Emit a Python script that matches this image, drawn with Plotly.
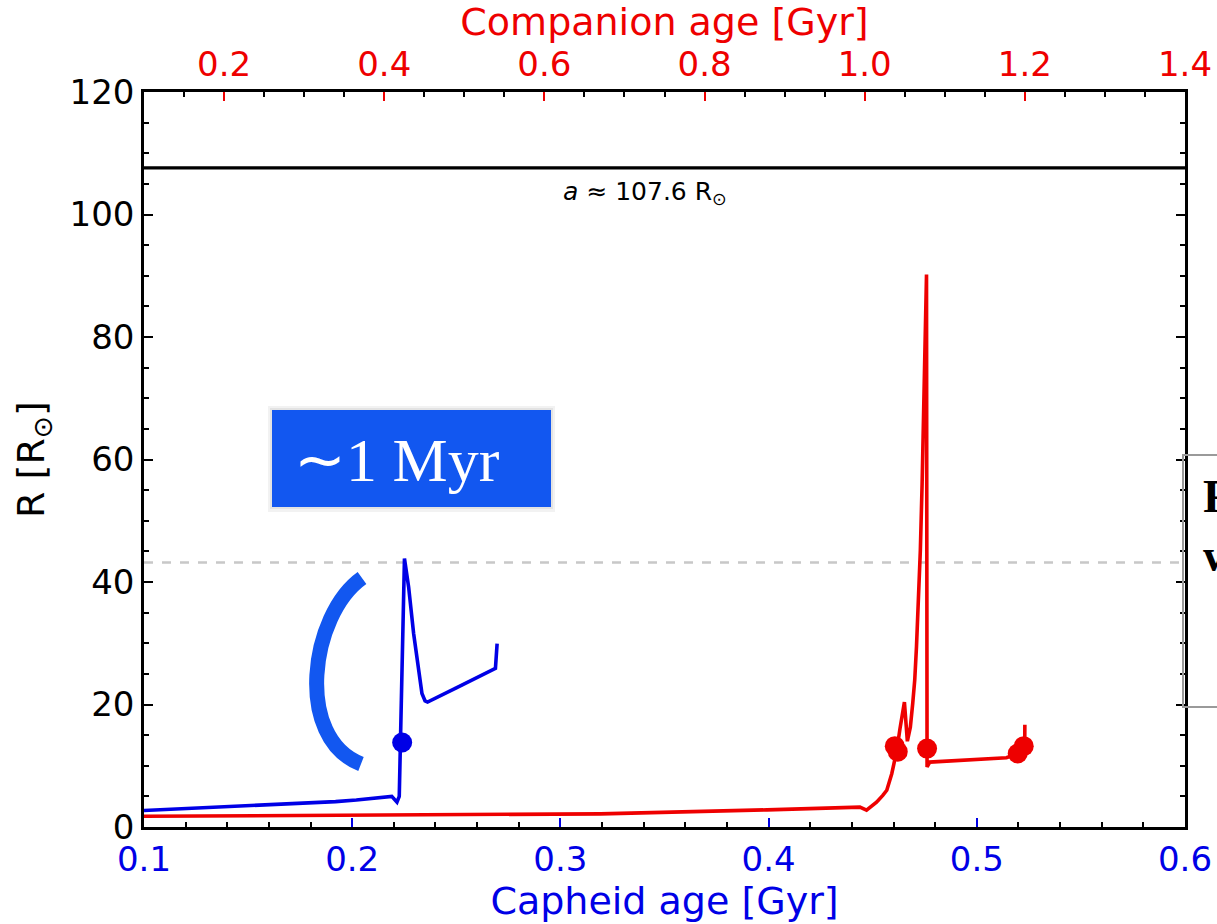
import plotly.graph_objects as go

# ---------------- data ----------------
# Cepheid (blue) track: Cepheid age [Gyr] vs radius [R_sun]
ceph_age = [0.100, 0.120, 0.146, 0.165, 0.178, 0.192, 0.202, 0.212, 0.219, 0.2215, 0.2226,
            0.2251, 0.2271, 0.2295, 0.2319, 0.2335, 0.2350, 0.2362, 0.2500, 0.2688, 0.2696]
ceph_R = [2.7, 3.0, 3.4, 3.65, 3.9, 4.15, 4.4, 4.7, 5.0, 4.05, 5.0,
          43.85, 39.2, 31.6, 25.0, 21.8, 20.6, 20.4, 22.7, 25.9, 29.95]
ceph_dot_age = [0.2240]
ceph_dot_R = [13.8]

# Companion (red) track: companion age [Gyr] vs radius [R_sun]
comp_age = [0.100, 0.300, 0.470, 0.670, 0.878, 0.994, 1.0023, 1.0148, 1.0226, 1.0276,
            1.0338, 1.0401, 1.0440, 1.0496, 1.0533, 1.0570, 1.0600, 1.0625, 1.0647,
            1.0672, 1.0695, 1.0717, 1.0738, 1.0754, 1.0772, 1.0779, 1.0813, 1.1770, 1.1973,
            1.1998, 1.2000]
comp_R = [1.75, 1.9, 2.05, 2.15, 2.8, 3.24, 2.75, 4.05, 5.15, 6.0,
          8.7, 12.5, 16.0, 20.4, 14.0, 16.3, 20.2, 24.0, 29.5,
          37.0, 45.2, 56.0, 70.5, 82.0, 90.2, 9.8, 10.6, 11.3, 12.2,
          12.4, 16.7]
comp_dot_age = [1.0376, 1.0413, 1.0779, 1.1911, 1.1986]
comp_dot_R = [13.2, 12.3, 12.8, 12.0, 13.2]

separation = 107.6      # a [R_sun]
roche_R = 43.2          # dashed grey level

ceph_ticks = [0.1, 0.2, 0.3, 0.4, 0.5, 0.6]
comp_ticks = [0.2, 0.4, 0.6, 0.8, 1.0, 1.2, 1.4]
r_ticks = [0, 20, 40, 60, 80, 100, 120]

# ---------------- styling ----------------
BLUE = "#0000e6"
RED = "#ee0000"
BOX_BLUE = "#1257f0"
FONT = "DejaVu Sans"
W, H = 1217, 924
L, Rp, T, B = 144, 1185, 92, 827


def px(x):
    return (x - L) / (Rp - L)


def py(y):
    return (B - y) / (B - T)


fig = go.Figure()

fig.add_trace(go.Scatter(x=ceph_age, y=ceph_R, mode="lines",
                         line=dict(color=BLUE, width=3.6), xaxis="x", yaxis="y",
                         showlegend=False))
fig.add_trace(go.Scatter(x=comp_age, y=comp_R, mode="lines",
                         line=dict(color=RED, width=3.6), xaxis="x2", yaxis="y",
                         showlegend=False))
fig.add_trace(go.Scatter(x=ceph_dot_age, y=ceph_dot_R, mode="markers",
                         marker=dict(color=BLUE, size=20), xaxis="x", yaxis="y",
                         showlegend=False))
fig.add_trace(go.Scatter(x=comp_dot_age, y=comp_dot_R, mode="markers",
                         marker=dict(color=RED, size=20), xaxis="x2", yaxis="y",
                         showlegend=False))

shapes = [
    dict(type="line", xref="paper", x0=0, x1=1, yref="y", y0=separation, y1=separation,
         line=dict(color="black", width=3.2)),
    dict(type="line", xref="paper", x0=0, x1=1, yref="y", y0=roche_R, y1=roche_R,
         line=dict(color="#c8c8c8", width=2.5, dash="dash"), layer="below"),
    # soft shadow + blue label box
    dict(type="rect", xref="paper", yref="paper", x0=px(268), x1=px(555), y0=py(512), y1=py(406),
         fillcolor="rgba(0,0,0,0.05)", line=dict(width=0), layer="above"),
    dict(type="rect", xref="paper", yref="paper", x0=px(270), x1=px(553), y0=py(509), y1=py(408),
         fillcolor="rgba(0,0,0,0.06)", line=dict(width=0), layer="above"),
    dict(type="rect", xref="paper", yref="paper", x0=px(272), x1=px(551), y0=py(507), y1=py(410),
         fillcolor=BOX_BLUE, line=dict(width=0), layer="above"),
    # right-hand (cropped) text box
    dict(type="rect", xref="paper", yref="paper", x0=px(1183), x1=px(1300), y0=py(707), y1=py(455),
         fillcolor="rgba(0,0,0,0)", line=dict(color="#9a9a9a", width=2), layer="above"),
]

# thick blue bracket "(" drawn as a cubic Bezier in paper coordinates
p0, c1, c2, p3 = (362, 578), (310, 615), (294, 738), (361, 764)
path = "M {} {} C {} {}, {} {}, {} {}".format(
    px(p0[0]), py(p0[1]), px(c1[0]), py(c1[1]), px(c2[0]), py(c2[1]), px(p3[0]), py(p3[1]))
shapes.append(dict(type="path", xref="paper", yref="paper", path=path,
                   line=dict(color=BOX_BLUE, width=15), layer="above"))

annotations = [
    dict(xref="paper", yref="paper", x=px(645), y=py(193), text="<i>a</i> ≈ 107.6 R<sub>⊙</sub>",
         showarrow=False, font=dict(family=FONT, size=25, color="black"),
         xanchor="center", yanchor="middle"),
    dict(xref="paper", yref="paper", x=px(292), y=py(460), text="∼1 Myr",
         showarrow=False, font=dict(family="Liberation Serif", size=62, color="white"),
         xanchor="left", yanchor="middle"),
    dict(xref="paper", yref="paper", x=px(1201), y=py(496), text="<b>Roche lobe radius</b>",
         showarrow=False, font=dict(family="Liberation Serif", size=47, color="black"),
         xanchor="left", yanchor="middle"),
    dict(xref="paper", yref="paper", x=px(1201), y=py(555), text="<b>would be filled</b>",
         showarrow=False, font=dict(family="Liberation Serif", size=47, color="black"),
         xanchor="left", yanchor="middle"),
]

fig.update_layout(
    width=W, height=H,
    margin=dict(l=L, r=W - Rp, t=T, b=H - B, autoexpand=False),
    paper_bgcolor="white", plot_bgcolor="white",
    shapes=shapes, annotations=annotations,
    xaxis=dict(
        range=[0.1, 0.6], tickvals=ceph_ticks, tickformat=".1f",
        ticks="inside", ticklen=9, tickwidth=2, tickcolor=BLUE,
        tickfont=dict(family=FONT, size=34, color=BLUE),
        showline=True, linecolor="black", linewidth=2.5, mirror=False,
        showgrid=False, zeroline=False,
        minor=dict(dtick=0.02, ticks="inside", ticklen=5, tickwidth=1.5, tickcolor="black"),
        title=dict(text="Capheid age [Gyr]", font=dict(family=FONT, size=38, color=BLUE), standoff=5),
        automargin=False,
    ),
    xaxis2=dict(
        range=[0.1, 1.4], tickvals=comp_ticks, tickformat=".1f", overlaying="x", side="top",
        anchor="y",
        ticks="inside", ticklen=9, tickwidth=2, tickcolor=RED,
        tickfont=dict(family=FONT, size=34, color=RED),
        showline=True, linecolor="black", linewidth=2.5,
        showgrid=False, zeroline=False,
        minor=dict(dtick=0.05, ticks="inside", ticklen=5, tickwidth=1.5, tickcolor="black"),
        title=dict(text="Companion age [Gyr]", font=dict(family=FONT, size=38, color=RED), standoff=4),
        automargin=False,
    ),
    yaxis=dict(
        range=[0, 120], tickvals=r_ticks,
        ticks="inside", ticklen=9, tickwidth=2, tickcolor="black",
        tickfont=dict(family=FONT, size=34, color="black"),
        ticklabelstandoff=0,
        showline=True, linecolor="black", linewidth=2.5, mirror="ticks",
        showgrid=False, zeroline=False,
        minor=dict(dtick=5, ticks="inside", ticklen=5, tickwidth=1.5, tickcolor="black"),
        title=dict(text="R [R<sub>⊙</sub>]", font=dict(family=FONT, size=38, color="black"), standoff=14),
        automargin=False,
    ),
)

fig.write_html("out.html")
